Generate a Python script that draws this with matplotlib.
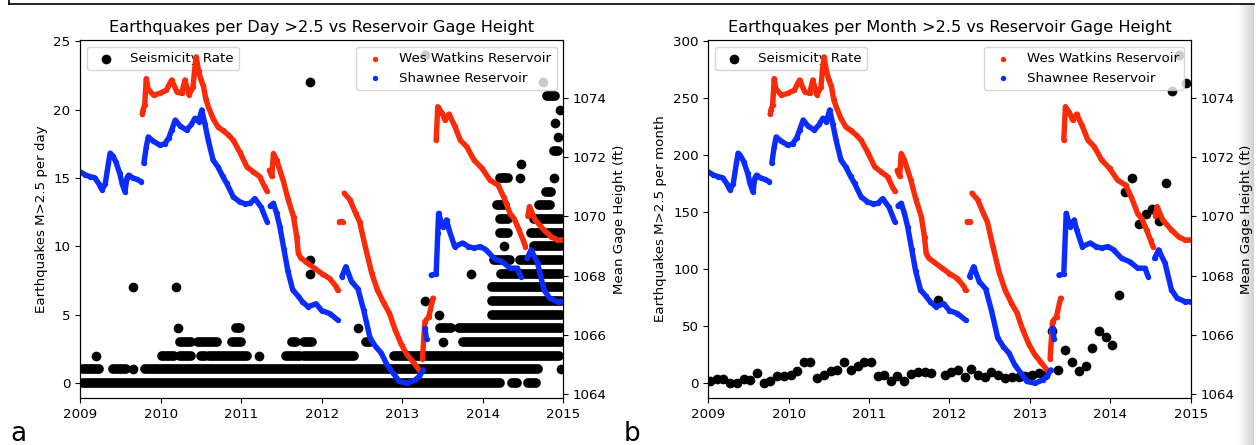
import numpy as np
import matplotlib
matplotlib.use("Agg")
import matplotlib.pyplot as plt
import matplotlib.dates as mdates
from matplotlib.lines import Line2D
from datetime import datetime
import pandas as pd

# ---------------- data ----------------
NAN = float("nan")

shawnee_year = [2009.00, 2009.06, 2009.12, 2009.18, 2009.23, 2009.27, 2009.31, 2009.35, 2009.37, 2009.40,
                2009.44, 2009.49, 2009.52, 2009.555, 2009.58, 2009.60, 2009.65, 2009.70, 2009.76, 2009.775,
                2009.79, 2009.82, 2009.845, 2009.90, 2009.99, 2010.05, 2010.10, 2010.135, 2010.18, 2010.24,
                2010.32, 2010.38, 2010.425, 2010.47, 2010.51, 2010.55, 2010.59, 2010.65, 2010.71, 2010.77,
                2010.82, 2010.90, 2010.98, 2011.05, 2011.11, 2011.17, 2011.25, 2011.32, 2011.34,
                2011.36, 2011.40, 2011.44, 2011.48, 2011.53, 2011.58, 2011.64, 2011.71, 2011.76, 2011.83,
                2011.93, 2012.00, 2012.10, 2012.20, 2012.22,
                2012.25, 2012.30, 2012.37, 2012.45, 2012.52, 2012.60, 2012.67, 2012.74, 2012.81, 2012.89,
                2012.96, 2013.06, 2013.16, 2013.21, 2013.26, 2013.27,
                2013.28, 2013.30, 2013.33,
                2013.36, 2013.42, 2013.44, 2013.45, 2013.50, 2013.55, 2013.58, 2013.65, 2013.75, 2013.82,
                2013.89, 2013.97, 2014.04, 2014.14, 2014.24, 2014.34, 2014.43, 2014.47, 2014.51,
                2014.55, 2014.60, 2014.68, 2014.76, 2014.83, 2014.93, 2015.00]
shawnee_ft = [1071.50, 1071.40, 1071.34, 1071.30, 1071.10, 1070.89, 1071.10, 1071.80, 1072.13, 1072.05,
              1071.85, 1071.45, 1071.10, 1070.83, 1071.30, 1071.39, 1071.30, 1071.25, 1071.17, NAN,
              1071.79, 1072.35, 1072.68, 1072.55, 1072.40, 1072.45, 1072.65, 1072.91, 1073.25, 1073.05,
              1072.91, 1073.10, 1073.31, 1073.20, 1073.59, 1073.10, 1072.57, 1071.90, 1071.67, 1071.35,
              1071.11, 1070.66, 1070.49, 1070.42, 1070.44, 1070.60, 1070.30, 1069.82, NAN,
              1070.35, 1070.44, 1070.10, 1069.65, 1068.90, 1068.15, 1067.52, 1067.30, 1067.12, 1066.95,
              1067.05, 1066.82, 1066.72, 1066.50, NAN,
              1067.97, 1068.30, 1067.80, 1067.55, 1066.84, 1065.89, 1065.60, 1065.38, 1064.99, 1064.70,
              1064.43, 1064.37, 1064.48, 1064.60, 1064.82, NAN,
              1066.22, 1065.85, NAN,
              1068.02, 1068.05, 1069.43, 1070.10, 1069.65, 1069.88, 1069.55, 1068.98, 1069.10, 1068.98,
              1068.93, 1068.98, 1068.87, 1068.58, 1068.47, 1068.25, 1068.25, 1067.97, NAN,
              1068.58, 1068.87, 1068.42, 1067.52, 1067.24, 1067.12, 1067.12]

watkins_year = [2009.77, 2009.78, 2009.80, 2009.82, 2009.84, 2009.91, 2009.99, 2010.07, 2010.135, 2010.20,
                2010.26, 2010.30, 2010.35, 2010.40, 2010.425, 2010.44, 2010.47, 2010.50, 2010.53, 2010.56,
                2010.59, 2010.65, 2010.71, 2010.77, 2010.84, 2010.90, 2010.98, 2011.07, 2011.15, 2011.23,
                2011.29, 2011.32, 2011.335,
                2011.35, 2011.38, 2011.40, 2011.44, 2011.52, 2011.58, 2011.65, 2011.69, 2011.71, 2011.74,
                2011.81, 2011.91, 2012.00, 2012.10, 2012.18, 2012.20, 2012.21,
                2012.22, 2012.26, 2012.27,
                2012.28, 2012.35, 2012.42, 2012.47, 2012.54, 2012.62, 2012.69, 2012.77, 2012.84, 2012.91,
                2012.99, 2013.06, 2013.13, 2013.21, 2013.23,
                2013.25, 2013.28, 2013.33, 2013.38, 2013.40,
                2013.42, 2013.44, 2013.49, 2013.53, 2013.58, 2013.65, 2013.72, 2013.80, 2013.89, 2013.99,
                2014.09, 2014.19, 2014.26, 2014.34, 2014.39, 2014.45, 2014.50, 2014.53, 2014.545,
                2014.56, 2014.58, 2014.65, 2014.76, 2014.85, 2014.93, 2015.00]
watkins_ft = [1073.45, 1073.60, 1073.75, 1074.65, 1074.30, 1074.09, 1074.15, 1074.26, 1074.60, 1074.20,
              1074.15, 1074.60, 1074.10, 1074.35, 1075.05, 1075.38, 1074.90, 1074.60, 1074.40, 1073.95,
              1073.70, 1073.30, 1073.02, 1072.90, 1072.75, 1072.57, 1072.18, 1071.67, 1071.50, 1071.34,
              1071.00, 1070.85, NAN,
              1071.55, 1071.35, 1072.12, 1071.90, 1071.22, 1070.60, 1069.99, 1069.30, 1068.75, 1068.60,
              1068.45, 1068.25, 1068.07, 1067.90, 1067.63, 1067.50, NAN,
              1069.82, 1069.82, NAN,
              1070.78, 1070.56, 1070.11, 1069.82, 1068.98, 1068.08, 1067.52, 1067.07, 1066.73, 1066.17,
              1065.66, 1065.33, 1065.10, 1064.82, NAN,
              1065.20, 1066.45, 1066.62, 1067.24, NAN,
              1072.57, 1073.70, 1073.50, 1073.25, 1073.45, 1073.05, 1072.57, 1072.35, 1071.90, 1071.62,
              1071.22, 1071.05, 1070.65, 1070.09, 1069.92, 1069.54, 1069.20, 1068.98, NAN,
              1070.00, 1070.33, 1069.88, 1069.54, 1069.31, 1069.20, 1069.20]

# daily counts: runs of consecutive days sharing a count level (start, end in decimal years)
run_level = [0, 0, 0,
             1, 1, 1, 1, 1,
             2, 2, 2, 2, 2, 2, 2, 2, 2,
             3, 3, 3, 3, 3, 3, 3, 3,
             4, 4, 4, 4, 4,
             5, 5, 6, 6, 7, 7, 7,
             8, 8, 8, 9, 9, 9, 10, 10, 11, 11, 12, 12,
             13, 13, 14, 15, 15, 15, 16, 17, 18, 19, 20, 21, 22, 22, 24]
run_start = [2009.03, 2014.36, 2014.56,
             2009.03, 2009.41, 2009.65, 2009.80, 2014.97,
             2009.20, 2010.02, 2010.24, 2010.50, 2010.60, 2011.22, 2011.56, 2011.78, 2012.90,
             2010.24, 2010.46, 2010.88, 2011.63, 2011.78, 2012.55, 2013.50, 2013.75,
             2010.21, 2010.93, 2012.45, 2013.47, 2013.70,
             2013.45, 2014.12, 2013.28, 2014.12, 2009.66, 2010.19, 2014.12,
             2011.86, 2013.85, 2014.22, 2011.86, 2014.14, 2014.46, 2014.26, 2014.63, 2014.21, 2014.60,
             2014.21, 2014.63,
             2014.18, 2014.70, 2014.78, 2014.21, 2014.46, 2014.88, 2014.47, 2014.88, 2014.94, 2014.90,
             2014.96, 2014.80, 2011.85, 2014.75, 2013.28]
run_end = [2014.21, 2014.43, 2014.66,
           2009.23, 2009.57, 2009.65, 2014.68, 2014.97,
           2009.20, 2010.16, 2010.38, 2010.55, 2011.07, 2011.22, 2011.73, 2012.40, 2014.95,
           2010.38, 2010.70, 2011.00, 2011.68, 2011.88, 2012.60, 2013.50, 2014.97,
           2010.21, 2010.98, 2012.45, 2013.60, 2014.97,
           2013.45, 2014.97, 2013.28, 2014.97, 2009.66, 2010.19, 2014.97,
           2011.86, 2013.85, 2014.97, 2011.86, 2014.34, 2014.97, 2014.26, 2014.97, 2014.31, 2014.97,
           2014.31, 2014.97,
           2014.27, 2014.83, 2014.85, 2014.31, 2014.46, 2014.88, 2014.47, 2014.93, 2014.94, 2014.90,
           2014.96, 2014.90, 2011.85, 2014.75, 2013.28]

# monthly counts, Jan 2009 .. Dec 2014
monthly_counts = [1.5, 3.5, 3.5, 0, 0.6, 3.5, 2.9, 8.8, 0, 1.5, 5.9, 5.9,
                  7.3, 10.3, 18.2, 18.2, 4.4, 7.3, 10.3, 11.7, 18.2, 11.7, 14.7, 18.2,
                  18.2, 6.5, 7.3, 1.5, 6.5, 2.0, 8.2, 9.4, 9.4, 8.8, 73, 7.3,
                  9.4, 11.7, 5.0, 12.3, 7.3, 5.0, 9.4, 7.3, 4.4, 5.0, 5.0, 5.9,
                  7.3, 8.8, 7.3, 45.5, 11.7, 28.8, 18.5, 10.9, 15.3, 30.5, 45.5, 40.5,
                  33.5, 77.5, 168, 180, 140, 148, 153, 142, 176, 256, 288, 263]

year_ticks = ["2009", "2010", "2011", "2012", "2013", "2014", "2015"]


def to_num(y):
    out = []
    for v in np.atleast_1d(y):
        yr = int(np.floor(v))
        a = datetime(yr, 1, 1)
        b = datetime(yr + 1, 1, 1)
        out.append(mdates.date2num(a + (b - a) * (v - yr)))
    return np.array(out)


RED = "#fb2a08"
BLUE = "#0b2cff"
FS = 9.6

plt.rcParams["font.family"] = ["DejaVu Sans"]
fig = plt.figure(figsize=(12.59, 4.45), dpi=100)

axes_pos = [[0.0638, 0.1056, 0.3836, 0.8045], [0.5626, 0.1056, 0.3832, 0.8045]]
titles = ["Earthquakes per Day >2.5 vs Reservoir Gage Height",
          "Earthquakes per Month >2.5 vs Reservoir Gage Height"]
ylabels = ["Earthquakes M>2.5 per day", "Earthquakes M>2.5 per month"]
letters = ["a", "b"]
letter_x = [0.008, 0.495]

for k in range(2):
    ax = fig.add_axes(axes_pos[k])
    if k == 0:
        lv = np.array(run_level, float)
        rs = np.array(run_start)
        re_ = np.array(run_end)
        multi = rs != re_
        ax.hlines(lv[multi], to_num(rs[multi]), to_num(re_[multi]), colors="black",
                  linewidth=7.0, capstyle="round", zorder=2)
        ax.scatter(to_num(rs[~multi]), lv[~multi], s=49, color="black", lw=0,
                   label="Seismicity Rate", zorder=2)
        ax.set_ylim(-1.1, 25.1)
        ax.set_yticks([0, 5, 10, 15, 20, 25])
    else:
        mdates_m = pd.date_range("2009-01-01", periods=72, freq="MS") + pd.Timedelta(days=9)
        ax.scatter(mdates.date2num(mdates_m.to_pydatetime()), monthly_counts, s=49,
                   color="black", lw=0, label="Seismicity Rate", zorder=2)
        ax.set_ylim(-13.0, 301.0)
        ax.set_yticks([0, 50, 100, 150, 200, 250, 300])
    ax.set_xlim(to_num(2009.0)[0], to_num(2015.0)[0])
    ax.xaxis.set_major_locator(mdates.YearLocator())
    ax.xaxis.set_major_formatter(mdates.DateFormatter("%Y"))
    ax.tick_params(labelsize=FS)
    ax.set_ylabel(ylabels[k], fontsize=FS)
    ax.set_title(titles[k], fontsize=11.6)
    ax.legend(loc="upper left", fontsize=FS, scatterpoints=1)

    ax2 = ax.twinx()
    for yrs, ft, col, lab in [(watkins_year, watkins_ft, RED, "Wes Watkins Reservoir"),
                              (shawnee_year, shawnee_ft, BLUE, "Shawnee Reservoir")]:
        xn = to_num(yrs)
        fv = np.array(ft, float)
        ax2.plot(xn, fv, color=col, lw=3.9, solid_capstyle="round",
                 solid_joinstyle="round", zorder=2)
        ax2.scatter(xn, fv, s=15, color=col, lw=0, label=lab, zorder=2)
    ax2.set_ylim(1063.87, 1075.95)
    ax2.set_yticks([1064, 1066, 1068, 1070, 1072, 1074])
    ax2.tick_params(labelsize=FS)
    ax2.set_ylabel("Mean Gage Height (ft)", fontsize=FS)
    ax2.legend(loc="upper right", fontsize=FS, scatterpoints=1)

    fig.text(letter_x[k], 0.01, letters[k], fontsize=19)

# screenshot frame decorations
fig.add_artist(Line2D([9 / 1259, 1254 / 1259], [1 - 4 / 445, 1 - 4 / 445],
                      color="black", lw=1.2, transform=fig.transFigure))
fig.add_artist(Line2D([9 / 1259, 9 / 1259], [1, 1 - 4 / 445],
                      color="black", lw=1.2, transform=fig.transFigure))
grad = np.linspace(1, 0.82, 30).reshape(1, -1)
gax = fig.add_axes([1238 / 1259, 0, 16 / 1259, 1 - 5 / 445], zorder=-5)
gax.imshow(grad, cmap="gray", vmin=0, vmax=1, aspect="auto")
gax.axis("off")

fig.savefig("out.png", dpi=100)
